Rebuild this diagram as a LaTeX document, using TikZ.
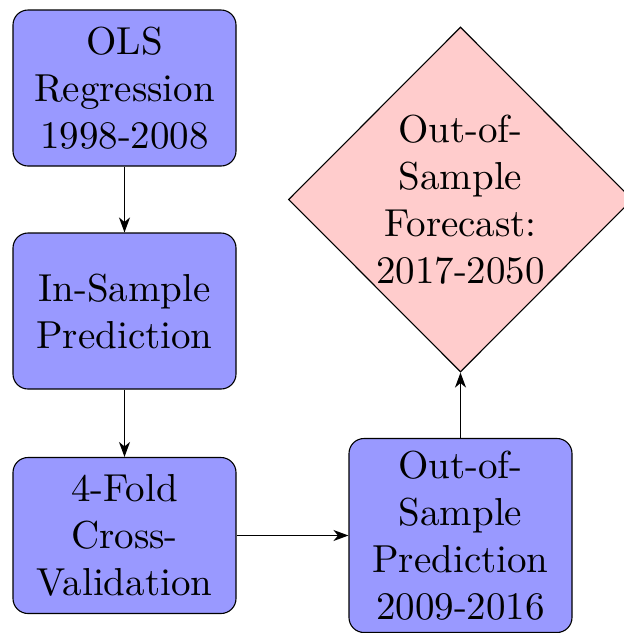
\documentclass[tikz,border=0pt]{standalone}
\usepackage{fontspec}
\setmainfont[Extension=.otf]{lmroman10-regular}
\usetikzlibrary{shapes.geometric,arrows.meta}
\tikzset{
  base/.style={draw=black, line width=1.1pt, font=\fontsize{39}{47}\selectfont, align=center},
  box/.style={base, rectangle, rounded corners=15pt, fill=blue!40, minimum width=223pt, minimum height=156pt, inner sep=0pt},
  fc/.style={base, diamond, fill=red!20, minimum width=344pt, minimum height=345pt, inner sep=0pt},
  arr/.style={line width=1.4pt, -{Stealth[length=15pt,width=11pt,inset=4.5pt]}}
}
\begin{document}
\begin{tikzpicture}[x=1pt,y=-1pt]
\useasboundingbox (0,0) rectangle (624,633);
\node[box] (ols) at (124.5,88) {OLS\\Regression\\1998-2008};
\node[box] (ins) at (124.5,311) {In-Sample\\Prediction};
\node[box] (cv) at (124.5,535.5) {4-Fold\\Cross-\\Validation};
\node[box, minimum height=194pt] (oos) at (460.5,535.5) {Out-of-\\Sample\\Prediction\\2009-2016};
\node[fc] (fore) at (460.5,199.5) {Out-of-\\Sample\\Forecast:\\2017-2050};
\draw[arr] (ols) -- (ins);
\draw[arr] (ins) -- (cv);
\draw[arr] (cv) -- (oos);
\draw[arr] (oos) -- (fore);
\end{tikzpicture}
\end{document}
